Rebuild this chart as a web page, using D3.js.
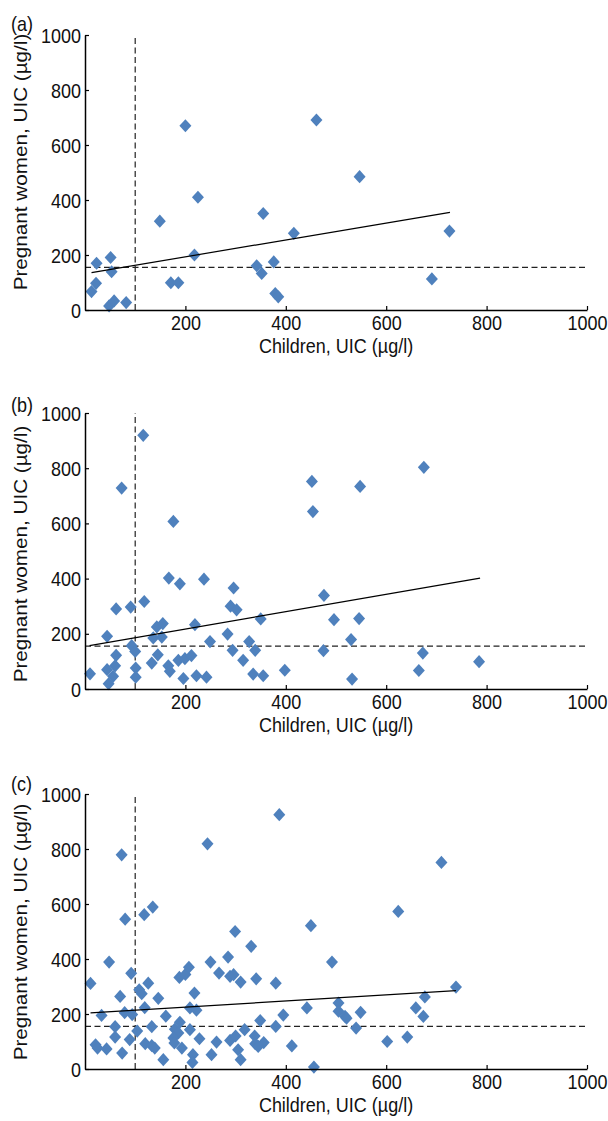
<!DOCTYPE html>
<html><head><meta charset="utf-8">
<script src="https://cdn.jsdelivr.net/npm/d3@7"></script>
<style>
html,body{margin:0;padding:0;background:#fff;}
svg{display:block;font-family:"Liberation Sans",Arial,Helvetica,sans-serif;}
</style></head>
<body><svg id="chart" width="608" height="1121"></svg>
<script>
// ---- data ----
const panelLabels = ["(a)", "(b)", "(c)"];
const xTicks = [200, 400, 600, 800, 1000];
const yTicks = [0, 200, 400, 600, 800, 1000];
const xTitle = "Children, UIC (\u00b5g/l)";
const yTitle = "Pregnant women, UIC (\u00b5g/l)";
const childCutoff = 100;
const womenCutoff = 155;

const aChildren = [200,225,149,218,171,186,355,416,342,352,376,379,385,23,13,22,51,53,48,58,82,461,547,726,691];
const aWomen    = [670,410,323,200,99,99,351,279,161,133,175,60,48,170,67,97,191,139,15,33,27,691,485,287,113];
const aFitX = [13, 727];
const aFitY = [136, 355];

const bChildren = [116,73,176,167,189,237,296,118,91,62,290,302,350,219,143,155,44,136,153,284,93,100,249,327,339,294,145,62,133,166,169,186,199,212,315,398,335,355,242,222,196,10,44,60,56,47,101,101,452,454,548,675,476,496,546,530,475,532,673,665,785];
const bWomen    = [919,728,607,402,381,398,366,317,297,290,300,287,254,233,225,237,191,185,188,199,157,136,172,172,140,140,124,122,94,84,64,104,110,121,104,68,54,48,43,48,38,55,70,84,46,19,76,43,752,643,734,803,339,251,255,179,139,36,130,67,99];
const bFitX = [9, 787];
const bFitY = [157, 402];

const cChildren = [387,244,73,80,118,135,299,331,450,710,624,492,739,
  48,250,285,11,92,126,108,113,70,146,188,200,207,218,267,289,296,310,341,380,
  33,79,94,119,161,209,222,442,395,349,505,505,518,521,549,659,677,674,
  60,133,104,189,179,186,209,228,380,318,540,602,642,
  176,178,193,60,89,21,25,43,74,120,133,139,156,215,214,262,289,300,338,339,356,345,412,305,310,252,456];
const cWomen    = [925,819,779,545,561,589,500,446,521,751,573,389,298,
  389,389,407,311,348,312,288,274,264,257,333,344,370,276,349,337,343,316,328,312,
  195,205,198,223,192,222,214,222,196,176,240,210,191,185,206,222,262,191,
  154,154,138,170,145,131,143,110,155,143,149,100,116,
  113,95,76,116,107,88,76,73,58,92,85,76,34,52,24,98,104,120,120,92,96,82,84,70,34,52,7];
const cFitX = [11, 739];
const cFitY = [204, 285];

const panels = [
  {label: panelLabels[0], xs: aChildren, ys: aWomen, fx: aFitX, fy: aFitY},
  {label: panelLabels[1], xs: bChildren, ys: bWomen, fx: bFitX, fy: bFitY},
  {label: panelLabels[2], xs: cChildren, ys: cWomen, fx: cFitX, fy: cFitY}
];

// ---- layout ----
const plotLeft = 85, plotRight = 587;
const tops = [35, 413, 794];
const bottoms = [310, 689, 1069];
const yTitleCenters = [162, 554, 932];
const labelBaselines = [31, 412, 791];
const stretch = 1.15;
const blue = "#4F81BD";
const fmt = d3.format("d");

const svg = d3.select("#chart");

panels.forEach((p, i) => {
  const x = d3.scaleLinear().domain([0, 1000]).range([plotLeft, plotRight]);
  const y = d3.scaleLinear().domain([0, 1000]).range([bottoms[i], tops[i]]);
  const g = svg.append("g");

  // cutoff lines
  g.append("line")
    .attr("x1", x(childCutoff)).attr("x2", x(childCutoff))
    .attr("y1", y(0)).attr("y2", y(1000))
    .attr("stroke", "#222").attr("stroke-width", 1.2).attr("stroke-dasharray", "6,3.5");
  g.append("line")
    .attr("x1", x(0)).attr("x2", x(1000))
    .attr("y1", y(womenCutoff)).attr("y2", y(womenCutoff))
    .attr("stroke", "#222").attr("stroke-width", 1.2).attr("stroke-dasharray", "6,3.5");

  // points
  const pts = p.xs.map((v, k) => [v, p.ys[k]]);
  g.append("g").selectAll("path").data(pts).join("path")
    .attr("transform", d => `translate(${x(d[0])},${y(d[1])})`)
    .attr("d", "M0,-6.6L6,0L0,6.6L-6,0Z")
    .attr("fill", blue);

  // regression line
  g.append("line")
    .attr("x1", x(p.fx[0])).attr("y1", y(p.fy[0]))
    .attr("x2", x(p.fx[1])).attr("y2", y(p.fy[1]))
    .attr("stroke", "#000").attr("stroke-width", 1.2);

  // axes
  const ax = g.append("g").attr("transform", `translate(0,${y(0)})`)
    .call(d3.axisBottom(x).tickValues(xTicks).tickFormat(fmt).tickSizeInner(-4).tickSizeOuter(0).tickPadding(4));
  ax.selectAll("text").attr("y", 20 / stretch).attr("dy", 0)
    .attr("transform", `scale(1,${stretch})`);
  const ay = g.append("g").attr("transform", `translate(${x(0)},0)`)
    .call(d3.axisLeft(y).tickValues(yTicks).tickFormat(fmt).tickSizeInner(-4).tickSizeOuter(0).tickPadding(4));
  ay.selectAll("text").attr("dy", "0.34em").attr("y", 0)
    .attr("transform", `scale(1,${stretch})`);
  [ax, ay].forEach(a => {
    a.select(".domain").attr("stroke", "#000").attr("stroke-width", 1.5);
    a.selectAll(".tick line").attr("stroke", "#000").attr("stroke-width", 1.2);
    a.selectAll("text").attr("font-size", 18).attr("fill", "#111")
      .attr("font-family", "Liberation Sans, Arial, sans-serif");
  });

  // axis titles
  g.append("text")
    .attr("transform", `translate(${(plotLeft + plotRight) / 2},${y(0) + 43}) scale(1,${stretch})`)
    .attr("text-anchor", "middle").attr("font-size", 18).attr("fill", "#111")
    .text(xTitle);
  g.append("text")
    .attr("transform", `translate(27,${yTitleCenters[i]}) rotate(-90) scale(${stretch},1)`)
    .attr("text-anchor", "middle").attr("font-size", 18).attr("fill", "#111")
    .text(yTitle);

  // panel label
  g.append("text")
    .attr("transform", `translate(11,${labelBaselines[i]}) scale(1,${stretch})`)
    .attr("font-size", 18).attr("fill", "#111")
    .text(p.label);
});
</script></body></html>
